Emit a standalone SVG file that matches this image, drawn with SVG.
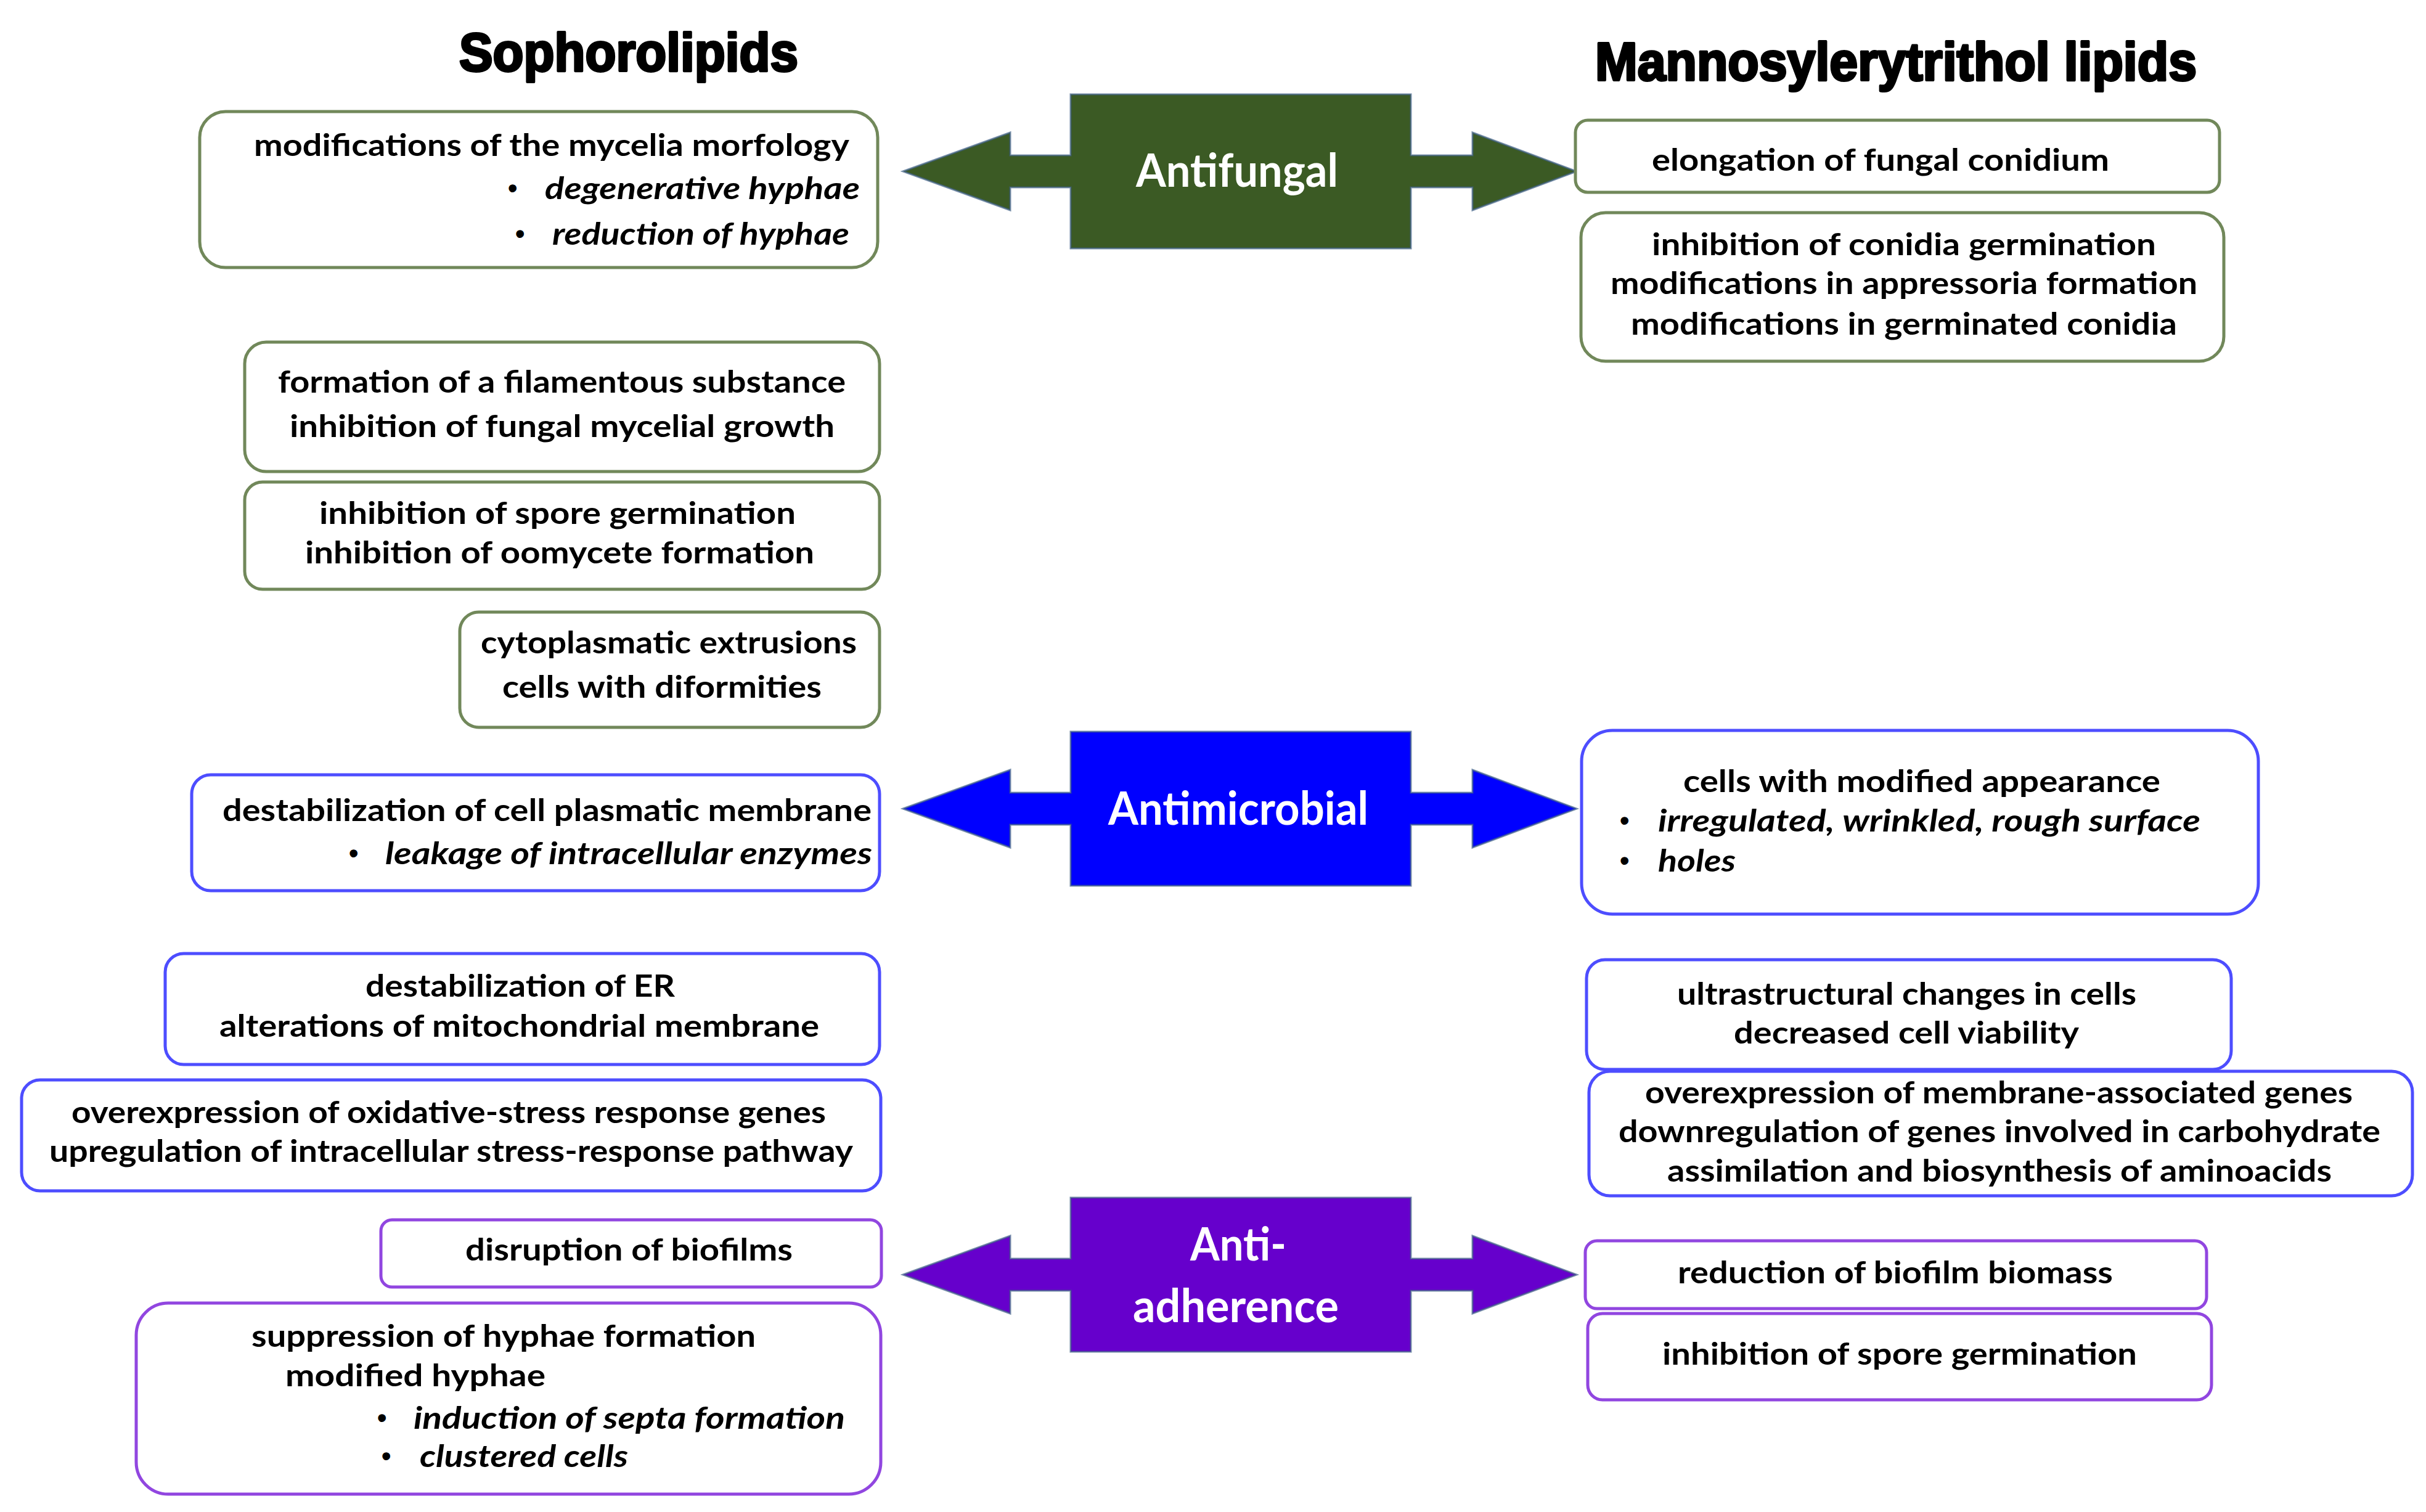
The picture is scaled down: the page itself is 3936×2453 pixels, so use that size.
<svg xmlns="http://www.w3.org/2000/svg" xmlns:xlink="http://www.w3.org/1999/xlink" width="3936" height="2453" viewBox="0 0 3936 2453">
<style>
.t{font-family:Lato,"Liberation Sans","DejaVu Sans",sans-serif;font-weight:bold;font-size:49px;fill:#000}
.ti{font-family:Lato,"Liberation Sans","DejaVu Sans",sans-serif;font-weight:bold;font-style:italic;font-size:49px;fill:#000}
.bu{font-family:"Liberation Sans","DejaVu Sans",sans-serif;font-weight:bold;font-size:44px;fill:#000}
.lbl{font-family:Lato,"Liberation Sans","DejaVu Sans",sans-serif;font-weight:bold;font-size:74px;fill:#fff}
.ttl{font-family:"Liberation Sans","DejaVu Sans",sans-serif;font-weight:bold;font-size:88px;fill:#000;stroke:#000;stroke-width:4;stroke-linejoin:round}
.bg{fill:#fff;stroke:#71885a;stroke-width:5}
.bb{fill:#fff;stroke:#4d4dff;stroke-width:5}
.bp{fill:#fff;stroke:#9146e0;stroke-width:5}
.co{stroke:#3f5f86;stroke-width:3;stroke-opacity:0.7}
</style>
<defs>
<path id="callout" d="M1465,0 L1639,-63 L1639,-26 L1737,-26 L1737,-125 L2289,-125 L2289,-26 L2389,-26 L2389,-63 L2558,0 L2389,63 L2389,26 L2289,26 L2289,125 L1737,125 L1737,26 L1639,26 L1639,63 Z"/>
</defs>
<rect width="3936" height="2453" fill="#fff"/>

<g id="title-sophorolipids">
<text class="ttl" x="745" y="115" textLength="550" lengthAdjust="spacingAndGlyphs">Sophorolipids</text>
</g>
<g id="title-mel">
<text class="ttl" x="2588" y="130" textLength="976" lengthAdjust="spacingAndGlyphs">Mannosylerytrithol lipids</text>
</g>

<g id="antifungal">
<use xlink:href="#callout" href="#callout" class="co" transform="translate(0,278)" fill="#3b5a24"/>
<text class="lbl" x="1843" y="303" textLength="328" lengthAdjust="spacingAndGlyphs">Antifungal</text>
</g>
<g id="antimicrobial">
<use xlink:href="#callout" href="#callout" class="co" transform="translate(0,1312)" fill="#0000ff"/>
<text class="lbl" x="1798" y="1338" textLength="422" lengthAdjust="spacingAndGlyphs">Antimicrobial</text>
</g>
<g id="antiadherence">
<use xlink:href="#callout" href="#callout" class="co" transform="translate(0,2068)" fill="#6600cc"/>
<text class="lbl" x="1931" y="2045" textLength="156" lengthAdjust="spacingAndGlyphs">Anti-</text>
<text class="lbl" x="1838" y="2145" textLength="334" lengthAdjust="spacingAndGlyphs">adherence</text>
</g>

<!-- Left: Sophorolipids, antifungal -->
<g id="sl-af-1">
<rect class="bg" x="324" y="181" width="1100" height="253" rx="42"/>
<text class="t" x="412" y="253" textLength="966" lengthAdjust="spacingAndGlyphs">modifications of the mycelia morfology</text>
<text class="bu" x="824" y="320">•</text>
<text class="ti" x="884" y="323" textLength="511" lengthAdjust="spacingAndGlyphs">degenerative hyphae</text>
<text class="bu" x="836" y="394">•</text>
<text class="ti" x="896" y="397" textLength="482" lengthAdjust="spacingAndGlyphs">reduction of hyphae</text>
</g>
<g id="sl-af-2">
<rect class="bg" x="397" y="555" width="1030" height="210" rx="35"/>
<text class="t" x="451" y="637" textLength="921" lengthAdjust="spacingAndGlyphs">formation of a filamentous substance</text>
<text class="t" x="470" y="709" textLength="884" lengthAdjust="spacingAndGlyphs">inhibition of fungal mycelial growth</text>
</g>
<g id="sl-af-3">
<rect class="bg" x="397" y="782" width="1030" height="174" rx="29"/>
<text class="t" x="518" y="850" textLength="773" lengthAdjust="spacingAndGlyphs">inhibition of spore germination</text>
<text class="t" x="495" y="914" textLength="826" lengthAdjust="spacingAndGlyphs">inhibition of oomycete formation</text>
</g>
<g id="sl-af-4">
<rect class="bg" x="746" y="993" width="681" height="187" rx="31"/>
<text class="t" x="780" y="1060" textLength="610" lengthAdjust="spacingAndGlyphs">cytoplasmatic extrusions</text>
<text class="t" x="815" y="1132" textLength="518" lengthAdjust="spacingAndGlyphs">cells with diformities</text>
</g>

<!-- Left: Sophorolipids, antimicrobial -->
<g id="sl-am-1">
<rect class="bb" x="311" y="1257" width="1116" height="188" rx="31"/>
<text class="t" x="361" y="1332" textLength="1053" lengthAdjust="spacingAndGlyphs">destabilization of cell plasmatic membrane</text>
<text class="bu" x="566" y="1399">•</text>
<text class="ti" x="625" y="1402" textLength="790" lengthAdjust="spacingAndGlyphs">leakage of intracellular enzymes</text>
</g>
<g id="sl-am-2">
<rect class="bb" x="268" y="1547" width="1159" height="180" rx="30"/>
<text class="t" x="593" y="1617" textLength="502" lengthAdjust="spacingAndGlyphs">destabilization of ER</text>
<text class="t" x="356" y="1682" textLength="973" lengthAdjust="spacingAndGlyphs">alterations of mitochondrial membrane</text>
</g>
<g id="sl-am-3">
<rect class="bb" x="35" y="1752" width="1394" height="180" rx="30"/>
<text class="t" x="116" y="1822" textLength="1224" lengthAdjust="spacingAndGlyphs">overexpression of oxidative-stress response genes</text>
<text class="t" x="80" y="1885" textLength="1304" lengthAdjust="spacingAndGlyphs">upregulation of intracellular stress-response pathway</text>
</g>

<!-- Left: Sophorolipids, anti-adherence -->
<g id="sl-aa-1">
<rect class="bp" x="618" y="1979" width="812" height="109" rx="18"/>
<text class="t" x="755" y="2045" textLength="531" lengthAdjust="spacingAndGlyphs">disruption of biofilms</text>
</g>
<g id="sl-aa-2">
<rect class="bp" x="221" y="2114" width="1208" height="310" rx="52"/>
<text class="t" x="408" y="2185" textLength="818" lengthAdjust="spacingAndGlyphs">suppression of hyphae formation</text>
<text class="t" x="463" y="2249" textLength="422" lengthAdjust="spacingAndGlyphs">modified hyphae</text>
<text class="bu" x="612" y="2315">•</text>
<text class="ti" x="671" y="2318" textLength="700" lengthAdjust="spacingAndGlyphs">induction of septa formation</text>
<text class="bu" x="619" y="2377">•</text>
<text class="ti" x="681" y="2380" textLength="338" lengthAdjust="spacingAndGlyphs">clustered cells</text>
</g>

<!-- Right: MEL, antifungal -->
<g id="mel-af-1">
<rect class="bg" x="2556" y="195" width="1045" height="117" rx="20"/>
<text class="t" x="2680" y="277" textLength="742" lengthAdjust="spacingAndGlyphs">elongation of fungal conidium</text>
</g>
<g id="mel-af-2">
<rect class="bg" x="2565" y="345" width="1043" height="241" rx="40"/>
<text class="t" x="2680" y="414" textLength="818" lengthAdjust="spacingAndGlyphs">inhibition of conidia germination</text>
<text class="t" x="2613" y="477" textLength="952" lengthAdjust="spacingAndGlyphs">modifications in appressoria formation</text>
<text class="t" x="2646" y="543" textLength="886" lengthAdjust="spacingAndGlyphs">modifications in germinated conidia</text>
</g>

<!-- Right: MEL, antimicrobial -->
<g id="mel-am-1">
<rect class="bb" x="2566" y="1185" width="1098" height="298" rx="50"/>
<text class="t" x="2731" y="1285" textLength="774" lengthAdjust="spacingAndGlyphs">cells with modified appearance</text>
<text class="bu" x="2628" y="1346">•</text>
<text class="ti" x="2690" y="1349" textLength="880" lengthAdjust="spacingAndGlyphs">irregulated, wrinkled, rough surface</text>
<text class="bu" x="2628" y="1411">•</text>
<text class="ti" x="2690" y="1414" textLength="126" lengthAdjust="spacingAndGlyphs">holes</text>
</g>
<g id="mel-am-2">
<rect class="bb" x="2574" y="1557" width="1046" height="178" rx="30"/>
<text class="t" x="2721" y="1630" textLength="745" lengthAdjust="spacingAndGlyphs">ultrastructural changes in cells</text>
<text class="t" x="2813" y="1693" textLength="560" lengthAdjust="spacingAndGlyphs">decreased cell viability</text>
</g>
<g id="mel-am-3">
<rect class="bb" x="2578" y="1738" width="1336" height="202" rx="34"/>
<text class="t" x="2669" y="1790" textLength="1148" lengthAdjust="spacingAndGlyphs">overexpression of membrane-associated genes</text>
<text class="t" x="2626" y="1853" textLength="1236" lengthAdjust="spacingAndGlyphs">downregulation of genes involved in carbohydrate</text>
<text class="t" x="2705" y="1917" textLength="1078" lengthAdjust="spacingAndGlyphs">assimilation and biosynthesis of aminoacids</text>
</g>

<!-- Right: MEL, anti-adherence -->
<g id="mel-aa-1">
<rect class="bp" x="2572" y="2013" width="1008" height="110" rx="19"/>
<text class="t" x="2722" y="2082" textLength="706" lengthAdjust="spacingAndGlyphs">reduction of biofilm biomass</text>
</g>
<g id="mel-aa-2">
<rect class="bp" x="2576" y="2131" width="1012" height="140" rx="24"/>
<text class="t" x="2697" y="2214" textLength="770" lengthAdjust="spacingAndGlyphs">inhibition of spore germination</text>
</g>
</svg>
